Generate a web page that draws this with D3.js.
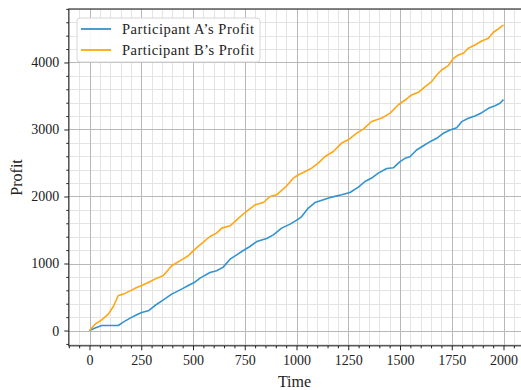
<!DOCTYPE html>
<html>
<head>
<meta charset="utf-8">
<script src="https://cdn.jsdelivr.net/npm/d3@7"></script>
<style>
  body { margin: 0; background: #fff; }
  svg { display: block; font-family: "Liberation Serif", "DejaVu Serif", serif; }
  .tick text { font-family: "Liberation Serif", serif; font-size: 14px; fill: #222; }
  .grid line { shape-rendering: crispEdges; }
</style>
</head>
<body>
<div id="chart"></div>
<script>
// data
const timeA = [0, 27, 59, 139, 163, 196, 228, 252, 284, 316, 357, 397, 445, 477, 506, 534, 582, 614, 646, 679, 711, 743, 775, 808, 856, 888, 928, 969, 1009, 1025, 1057, 1089, 1130, 1170, 1218, 1258, 1299, 1331, 1363, 1395, 1436, 1468, 1500, 1524, 1548, 1580, 1613, 1645, 1677, 1709, 1742, 1774, 1798, 1830, 1862, 1895, 1927, 1959, 1983, 2000];
const profitA = [0, 36, 75, 75, 125, 185, 234, 269, 294, 373, 458, 543, 618, 672, 716, 782, 866, 891, 946, 1065, 1130, 1194, 1254, 1328, 1373, 1428, 1528, 1588, 1663, 1701, 1827, 1910, 1951, 1991, 2025, 2060, 2140, 2224, 2275, 2349, 2418, 2428, 2520, 2570, 2594, 2694, 2758, 2818, 2868, 2943, 2993, 3027, 3117, 3167, 3201, 3251, 3316, 3355, 3391, 3445];

const timeB = [0, 27, 59, 91, 115, 139, 163, 196, 228, 252, 284, 316, 357, 397, 445, 477, 506, 534, 582, 614, 639, 679, 711, 751, 800, 840, 872, 904, 953, 985, 1009, 1033, 1073, 1105, 1138, 1178, 1218, 1250, 1291, 1323, 1363, 1412, 1452, 1492, 1532, 1556, 1589, 1621, 1653, 1677, 1701, 1733, 1758, 1782, 1806, 1830, 1862, 1895, 1927, 1951, 1975, 2000];
const profitB = [0, 95, 160, 245, 358, 522, 543, 592, 642, 672, 716, 767, 821, 966, 1055, 1115, 1204, 1279, 1403, 1453, 1528, 1563, 1652, 1761, 1876, 1910, 2000, 2025, 2160, 2275, 2324, 2358, 2424, 2498, 2597, 2672, 2797, 2846, 2946, 3006, 3119, 3170, 3245, 3369, 3455, 3515, 3555, 3639, 3714, 3813, 3888, 3952, 4062, 4112, 4137, 4212, 4261, 4321, 4361, 4451, 4500, 4560];

const seriesNames = ["Participant A\u2019s Profit", "Participant B\u2019s Profit"];
const xTicks = [0, 250, 500, 750, 1000, 1250, 1500, 1750, 2000];
const yTicks = [0, 1000, 2000, 3000, 4000];

const width = 521, height = 390;
let padding = {top: 9, right: -3.2, bottom: 44.2, left: 68.8};

const colA = "#3393cf";
const colB = "#ffa614";

const svg = d3.select("#chart").append("svg")
  .attr("width", width)
  .attr("height", height);

let x = d3.scaleLinear()
  .domain([-100, 2100])
  .range([padding.left, width - padding.right]);

let y = d3.scaleLinear()
  .domain([-228, 4798])
  .range([height - padding.bottom, padding.top]);

const plotW = width - padding.right - padding.left;
const plotH = height - padding.bottom - padding.top;

svg.append("clipPath").attr("id", "plotclip")
  .append("rect")
  .attr("x", padding.left).attr("y", padding.top)
  .attr("width", plotW).attr("height", plotH);

// minor gridlines
const xMinor = d3.range(-100, 2101, 50).filter(d => d % 250 !== 0);
const yMinor = d3.range(-200, 4801, 200).filter(d => d % 1000 !== 0);

svg.append("g")
  .attr("class", "grid")
  .attr("transform", "translate(0," + (height - padding.bottom) + ")")
  .call(d3.axisBottom(x).tickValues(xMinor).tickSize(-plotH).tickFormat(""))
  .call(g => g.select(".domain").remove())
  .selectAll("line").attr("stroke", "#e4e4e4").attr("stroke-width", 1);

svg.append("g")
  .attr("class", "grid")
  .attr("transform", "translate(" + padding.left + ",0)")
  .call(d3.axisLeft(y).tickValues(yMinor).tickSize(-plotW).tickFormat(""))
  .call(g => g.select(".domain").remove())
  .selectAll("line").attr("stroke", "#e4e4e4").attr("stroke-width", 1);

// major gridlines
svg.append("g")
  .attr("class", "grid")
  .attr("transform", "translate(0," + (height - padding.bottom) + ")")
  .call(d3.axisBottom(x).tickValues(xTicks).tickSize(-plotH).tickFormat(""))
  .call(g => g.select(".domain").remove())
  .selectAll("line").attr("stroke", "#b8b8b8").attr("stroke-width", 1);

svg.append("g")
  .attr("class", "grid")
  .attr("transform", "translate(" + padding.left + ",0)")
  .call(d3.axisLeft(y).tickValues(yTicks).tickSize(-plotW).tickFormat(""))
  .call(g => g.select(".domain").remove())
  .selectAll("line").attr("stroke", "#b8b8b8").attr("stroke-width", 1);

// lines
const line = d3.line()
  .x(d => x(d[0]))
  .y(d => y(d[1]));

const plot = svg.append("g").attr("clip-path", "url(#plotclip)");

plot.append("path")
  .datum(d3.zip(timeA, profitA))
  .attr("fill", "none")
  .attr("stroke", colA)
  .attr("stroke-width", 1.6)
  .attr("stroke-linejoin", "round")
  .attr("d", line);

plot.append("path")
  .datum(d3.zip(timeB, profitB))
  .attr("fill", "none")
  .attr("stroke", colB)
  .attr("stroke-width", 1.6)
  .attr("stroke-linejoin", "round")
  .attr("d", line);

// axes ticks
svg.append("g")
  .attr("class", "axis x")
  .attr("transform", "translate(0," + (height - padding.bottom) + ")")
  .call(d3.axisBottom(x).tickValues(xMinor).tickSize(2.5).tickFormat(""))
  .call(g => g.select(".domain").remove())
  .selectAll("line").attr("stroke", "#222");

svg.append("g")
  .attr("class", "axis x")
  .attr("transform", "translate(0," + (height - padding.bottom) + ")")
  .call(d3.axisBottom(x).tickValues(xTicks).tickSize(4.5).tickPadding(5).tickFormat(d3.format("d")))
  .call(g => g.select(".domain").remove())
  .call(g => g.selectAll("line").attr("stroke", "#222"));

svg.append("g")
  .attr("class", "axis y")
  .attr("transform", "translate(" + padding.left + ",0)")
  .call(d3.axisLeft(y).tickValues(yMinor).tickSize(2.5).tickFormat(""))
  .call(g => g.select(".domain").remove())
  .selectAll("line").attr("stroke", "#222");

svg.append("g")
  .attr("class", "axis y")
  .attr("transform", "translate(" + padding.left + ",0)")
  .call(d3.axisLeft(y).tickValues(yTicks).tickSize(4.5).tickPadding(5).tickFormat(d3.format("d")))
  .call(g => g.select(".domain").remove())
  .call(g => g.selectAll("line").attr("stroke", "#222"));

// spines
svg.append("rect")
  .attr("x", padding.left)
  .attr("y", padding.top)
  .attr("width", plotW)
  .attr("height", plotH)
  .attr("fill", "none")
  .attr("stroke", "#222")
  .attr("stroke-width", 1.1);

// legend
const legend = svg.append("g").attr("transform", "translate(77,18)");
legend.append("rect")
  .attr("width", 183)
  .attr("height", 44)
  .attr("rx", 3)
  .attr("fill", "#fff")
  .attr("fill-opacity", 0.9)
  .attr("stroke", "#d6d6d6");

[colA, colB].forEach(function(c, i) {
  legend.append("line")
    .attr("x1", 4).attr("x2", 34)
    .attr("y1", 11 + i * 21).attr("y2", 11 + i * 21)
    .attr("stroke", c)
    .attr("stroke-width", 1.8);
  legend.append("text")
    .attr("x", 45)
    .attr("y", 11 + i * 21)
    .attr("dy", "0.33em")
    .attr("textLength", 132)
    .attr("lengthAdjust", "spacing")
    .style("font-size", "14.5px")
    .attr("fill", "#222")
    .text(seriesNames[i]);
});

// axis titles
svg.append("text")
  .attr("x", (padding.left + 524.2) / 2 - 2)
  .attr("y", 387)
  .attr("text-anchor", "middle")
  .style("font-size", "16px")
  .attr("fill", "#222")
  .text("Time");

svg.append("text")
  .attr("transform", "rotate(-90)")
  .attr("x", -(padding.top + height - padding.bottom) / 2)
  .attr("y", 22)
  .attr("text-anchor", "middle")
  .style("font-size", "16px")
  .attr("fill", "#222")
  .text("Profit");
</script>
</body>
</html>
